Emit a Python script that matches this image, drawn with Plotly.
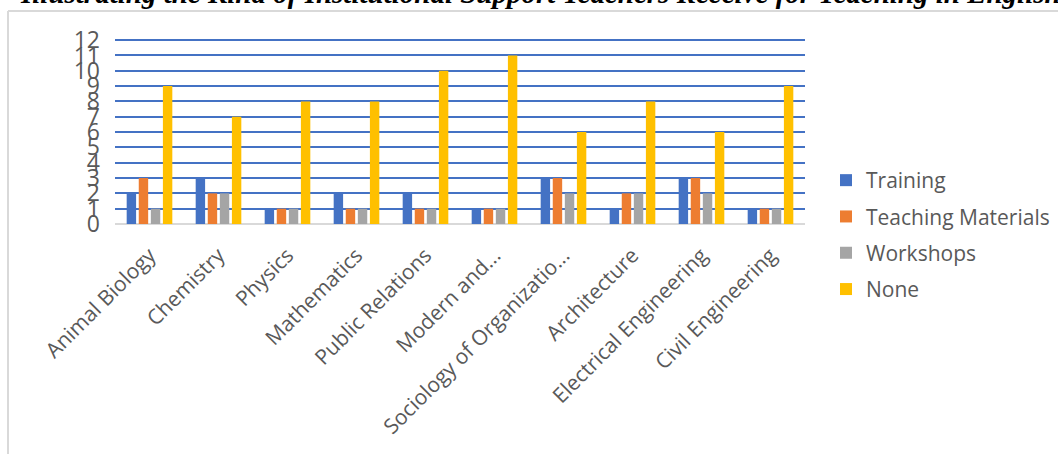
import plotly.graph_objects as go

categories = ["Animal Biology", "Chemistry", "Physics", "Mathematics", "Public Relations",
              "Modern and...", "Sociology of Organizatio...", "Architecture",
              "Electrical Engineering", "Civil Engineering"]
training = [2, 3, 1, 2, 2, 1, 3, 1, 3, 1]
teaching_materials = [3, 2, 1, 1, 1, 1, 3, 2, 3, 1]
workshops = [1, 2, 1, 1, 1, 1, 2, 2, 2, 1]
none_vals = [9, 7, 8, 8, 10, 11, 6, 8, 6, 9]
y_ticks = list(range(0, 13))
title_text = "Illustrating the Kind of Institutional Support Teachers Receive for Teaching in English"

series = [
    ("Training", training, "#4472C4"),
    ("Teaching Materials", teaching_materials, "#ED7D31"),
    ("Workshops", workshops, "#A5A5A5"),
    ("None", none_vals, "#FFC000"),
]

fig = go.Figure()
for name, vals, color in series:
    fig.add_trace(go.Bar(x=categories, y=vals, name=name, marker_color=color,
                         marker_line_width=0, legendgroup=name))

L, R, T, B = 115, 253, 38, 230
W, H = 1058, 454
pw = W - L - R
ph = H - T - B
y_top = 12.14

def px(x):
    return (x - L) / pw

def py(y):
    return 1 + (T - y) / ph

fig.update_layout(
    width=W, height=H,
    margin=dict(l=L, r=R, t=T, b=B, autoexpand=False),
    paper_bgcolor="white", plot_bgcolor="white",
    barmode="group", bargap=0.3, bargroupgap=0.22,
    font=dict(family="Open Sans", color="#595959"),
    showlegend=True,
    legend=dict(x=px(826), y=py(160), xanchor="left", yanchor="top",
                font=dict(size=21, color="#595959"), tracegroupgap=6,
                itemwidth=30, bgcolor="rgba(0,0,0,0)"),
    xaxis=dict(tickangle=-45, tickfont=dict(size=21, color="#595959"),
               showgrid=False, showline=False, ticks="", fixedrange=True,
               ticklabelstandoff=14),
    yaxis=dict(range=[0, y_top], tickvals=y_ticks, ticktext=[str(v) for v in y_ticks],
               tickfont=dict(size=23, color="#595959", family="Liberation Sans Narrow, Open Sans"),
               showgrid=True, gridcolor="#4472C4", gridwidth=2,
               zeroline=True, zerolinecolor="#D9D9D9", zerolinewidth=2,
               showline=False, ticks="", ticklabelstandoff=14),
    shapes=[
        dict(type="line", xref="paper", yref="paper", x0=px(8), x1=px(1060), y0=py(11), y1=py(11),
             line=dict(color="#D9D9D9", width=2)),
        dict(type="line", xref="paper", yref="paper", x0=px(8), x1=px(8), y0=py(11), y1=py(460),
             line=dict(color="#D9D9D9", width=2)),
    ],
    annotations=[
        dict(text="<b><i>" + title_text + "</i></b>", xref="paper", yref="paper",
             x=px(540), y=py(11), xanchor="center", yanchor="bottom", showarrow=False,
             font=dict(family="Liberation Serif", size=29, color="black"))
    ],
)

fig.write_html("out.html")
